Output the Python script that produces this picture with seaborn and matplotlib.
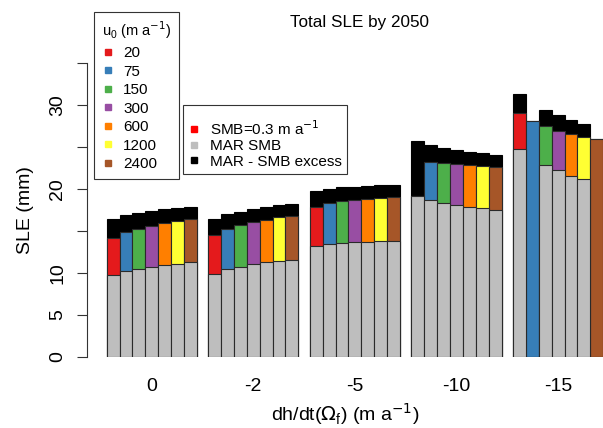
import matplotlib
matplotlib.use("Agg")
import matplotlib.pyplot as plt
import seaborn as sns
import pandas as pd
import numpy as np
from matplotlib.lines import Line2D

plt.rcParams['font.family'] = ['Liberation Sans', 'DejaVu Sans']

# groups of dh/dt(Omega_f) and ice velocity u0
groups = ['0', '-2', '-5', '-10', '-15']
u0_labels = ['20', '75', '150', '300', '600', '1200', '2400']
u0_colors = ['#E41A1C', '#377EB8', '#4DAF4A', '#984EA3', '#FF7F00', '#FFFF33', '#A65628']

# segment heights (mm SLE) per group, one value per u0
mar_smb = [
    [9.73, 10.24, 10.48, 10.71, 10.90, 11.07, 11.24],
    [9.85, 10.44, 10.71, 11.00, 11.27, 11.43, 11.55],
    [13.18, 13.38, 13.54, 13.65, 13.69, 13.77, 13.81],
    [19.13, 18.62, 18.30, 18.06, 17.82, 17.66, 17.46],
    [24.69, 0.00, 22.78, 22.19, 21.55, 21.15, 0.00],
]
smb_03 = [
    [4.37, 4.61, 4.72, 4.89, 5.00, 5.13, 5.11],
    [4.60, 4.80, 4.93, 5.00, 5.04, 5.17, 5.20],
    [4.61, 4.88, 4.96, 4.97, 5.08, 5.12, 5.17],
    [0.00, 4.56, 4.72, 4.88, 4.96, 5.04, 5.08],
    [4.28, 28.06, 4.68, 4.68, 4.92, 4.95, 25.87],
]
excess = [
    [2.25, 2.02, 1.87, 1.75, 1.65, 1.50, 1.51],
    [1.98, 1.75, 1.62, 1.55, 1.48, 1.42, 1.43],
    [1.97, 1.74, 1.67, 1.62, 1.55, 1.55, 1.46],
    [6.58, 1.99, 1.78, 1.66, 1.59, 1.51, 1.51],
    [2.26, 0.00, 1.91, 1.87, 1.67, 1.64, 0.00],
]

stride = 7.9
rows = []
for i, g in enumerate(groups):
    for j, u in enumerate(u0_labels):
        gray = mar_smb[i][j]
        col = gray + smb_03[i][j]
        rows.append({'pos': round(i * stride + j + 0.5, 3), 'group': g, 'u0': u,
                     'gray': gray, 'col_top': col, 'total': col + excess[i][j]})
df = pd.DataFrame(rows)

W, H = 603, 428
fig = plt.figure(figsize=(W / 100, H / 100), dpi=100)
y0_px, y35_px = 356.7, 62.7
x_left_px = 87.3
ax = fig.add_axes([x_left_px / W, (H - y0_px) / H, (W - x_left_px) / W, (y0_px - y35_px) / H])

edge = '#2a2a2a'
lw = 0.8
sns.barplot(data=df, x='pos', y='total', color='black', native_scale=True, width=1,
            errorbar=None, edgecolor='black', linewidth=lw, saturation=1, ax=ax)
sns.barplot(data=df, x='pos', y='col_top', hue='u0', hue_order=u0_labels,
            palette=dict(zip(u0_labels, u0_colors)), dodge=False, native_scale=True,
            width=1, errorbar=None, edgecolor=edge, linewidth=lw, saturation=1,
            legend=False, ax=ax)
sns.barplot(data=df, x='pos', y='gray', color='#BEBEBE', native_scale=True, width=1,
            errorbar=None, edgecolor=edge, linewidth=lw, saturation=1, ax=ax)

ax.set_xlim((x_left_px - 106.7) / 12.86, (W - 106.7) / 12.86)
ax.set_ylim(0, 35)
for s in ['top', 'right', 'bottom']:
    ax.spines[s].set_visible(False)
ax.spines['left'].set_bounds(0, 35)
ax.spines['left'].set_color('#333333')

ax.set_yticks(np.arange(0, 36, 5))
ax.set_yticklabels(['0', '5', '10', '', '20', '', '30', ''], rotation=90, va='center',
                   fontsize=14)
ax.tick_params(axis='y', length=7, width=0.8, pad=8, color='#333333')
ax.set_xticks([i * stride + 3.5 for i in range(len(groups))])
ax.set_xticklabels(groups, fontsize=14)
ax.tick_params(axis='x', length=0, pad=15)
ax.set_xlabel(r'dh/dt($\Omega_\mathregular{f}$) (m a$^{-1}$)', fontsize=14, labelpad=5)
ax.set_ylabel('SLE (mm)', fontsize=14, labelpad=11)

fig.text(359 / W, 1 - 22 / H, 'Total SLE by 2050', ha='center', va='center', fontsize=12.3)

# legend of u0
h1 = [Line2D([], [], marker='s', linestyle='', color=c, markersize=5) for c in u0_colors]
leg1 = ax.legend(h1, u0_labels, title=r'u$_\mathregular{0}$ (m a$^{-1}$)',
                 loc='upper left', bbox_to_anchor=(94 / W, 1 - 12 / H),
                 bbox_transform=fig.transFigure, fontsize=11, title_fontsize=10.5,
                 frameon=True, fancybox=False, framealpha=1, edgecolor='#333333',
                 handlelength=0.8, handletextpad=0.6, labelspacing=0.3,
                 borderpad=0.5, borderaxespad=0, alignment='left')
leg1.get_frame().set_linewidth(0.8)
ax.add_artist(leg1)

# legend of components
h2 = [Line2D([], [], marker='s', linestyle='', color=c, markersize=5)
      for c in ['#FF0000', '#BEBEBE', 'black']]
leg2 = ax.legend(h2, [r'SMB=0.3 m a$^{-1}$', 'MAR SMB', 'MAR - SMB excess'], title=' ',
                 loc='upper left', bbox_to_anchor=(183 / W, 1 - 105 / H),
                 bbox_transform=fig.transFigure, fontsize=11, title_fontsize=6,
                 frameon=True, fancybox=False, framealpha=1, edgecolor='#333333',
                 handlelength=0.8, handletextpad=0.6, labelspacing=0.1,
                 borderpad=0.35, borderaxespad=0)
leg2.get_frame().set_linewidth(0.8)

fig.savefig('out.png', dpi=100)
